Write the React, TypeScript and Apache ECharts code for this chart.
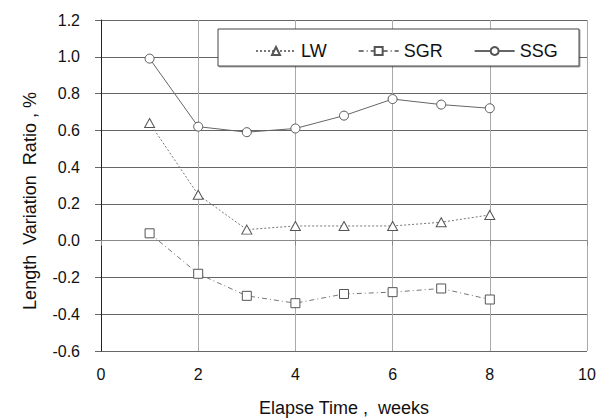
import React, { useEffect, useRef } from "react";
import * as echarts from "echarts";

const weeks = [1, 2, 3, 4, 5, 6, 7, 8];
const lwValues = [0.64, 0.25, 0.06, 0.08, 0.08, 0.08, 0.1, 0.14];
const sgrValues = [0.04, -0.18, -0.3, -0.34, -0.29, -0.28, -0.26, -0.32];
const ssgValues = [0.99, 0.62, 0.59, 0.61, 0.68, 0.77, 0.74, 0.72];
const seriesNames = ["LW", "SGR", "SSG"];

const FONT = "'Liberation Sans', Arial, sans-serif";

export default function App() {
  const ref = useRef<HTMLDivElement>(null);
  useEffect(() => {
    document.body.style.margin = "0";
    if (!ref.current) return;
    const chart = echarts.init(ref.current, undefined, { renderer: "svg" });
    const pair = (vals: number[]) => weeks.map((w, i) => [w, vals[i]]);
    const markerStyle = { color: "#fff", borderColor: "#555", borderWidth: 1 };
    chart.setOption({
      animation: false,
      backgroundColor: "#fff",
      textStyle: { fontFamily: FONT },
      grid: { left: 101, right: 19, top: 20, bottom: 68, containLabel: false },
      xAxis: {
        type: "value",
        min: 0,
        max: 10,
        interval: 2,
        axisLine: { show: true, lineStyle: { color: "#888", width: 1 } },
        axisTick: { show: true, length: 5, lineStyle: { color: "#888" } },
        axisLabel: { color: "#111", fontSize: 16, margin: 15, fontFamily: FONT },
        splitLine: { show: true, lineStyle: { color: "#aaa", width: 1 } },
      },
      yAxis: {
        type: "value",
        min: -0.6,
        max: 1.2,
        interval: 0.2,
        axisLine: { show: true, lineStyle: { color: "#222", width: 1 } },
        axisTick: { show: true, length: 6, lineStyle: { color: "#666" } },
        axisLabel: {
          color: "#111",
          fontSize: 16,
          margin: 21,
          fontFamily: FONT,
          formatter: (v: number) => v.toFixed(1),
        },
        splitLine: { show: true, lineStyle: { color: "#666", width: 1 } },
      },
      legend: {
        left: 250,
        top: 37,
        itemWidth: 40,
        itemHeight: 10,
        itemGap: 31,
        z: 5,
        textStyle: { fontSize: 18, color: "#111", fontFamily: FONT },
        data: seriesNames,
      },
      graphic: [
        {
          type: "rect",
          z: 4,
          shape: { x: 218, y: 29, width: 361, height: 37 },
          style: {
            fill: "#fff",
            stroke: "#444",
            lineWidth: 1,
            shadowColor: "rgba(0,0,0,0.35)",
            shadowOffsetX: 1,
            shadowOffsetY: 1,
            shadowBlur: 1,
          },
        },
        {
          type: "text",
          x: 30,
          y: 201,
          rotation: Math.PI / 2,
          style: {
            text: "Length  Variation  Ratio , %",
            fontSize: 18,
            fontFamily: FONT,
            fill: "#111",
            align: "center",
            verticalAlign: "middle",
          },
        },
        {
          type: "text",
          x: 344,
          y: 408,
          style: {
            text: "Elapse Time ,  weeks",
            fontSize: 18,
            fontFamily: FONT,
            fill: "#111",
            align: "center",
            verticalAlign: "middle",
          },
        },
      ],
      series: [
        {
          name: seriesNames[0],
          type: "line",
          data: pair(lwValues),
          symbol: "triangle",
          symbolSize: [10, 9],
          lineStyle: { color: "#777", width: 1, type: [2, 2] },
          itemStyle: markerStyle,
          z: 3,
        },
        {
          name: seriesNames[1],
          type: "line",
          data: pair(sgrValues),
          symbol: "rect",
          symbolSize: 9,
          lineStyle: { color: "#777", width: 1, type: [5, 3, 1, 3] },
          itemStyle: markerStyle,
          z: 3,
        },
        {
          name: seriesNames[2],
          type: "line",
          data: pair(ssgValues),
          symbol: "circle",
          symbolSize: 9,
          lineStyle: { color: "#666", width: 1, type: "solid" },
          itemStyle: markerStyle,
          z: 3,
        },
      ],
    });
    return () => chart.dispose();
  }, []);
  return <div ref={ref} style={{ width: 606, height: 419 }} />;
}
